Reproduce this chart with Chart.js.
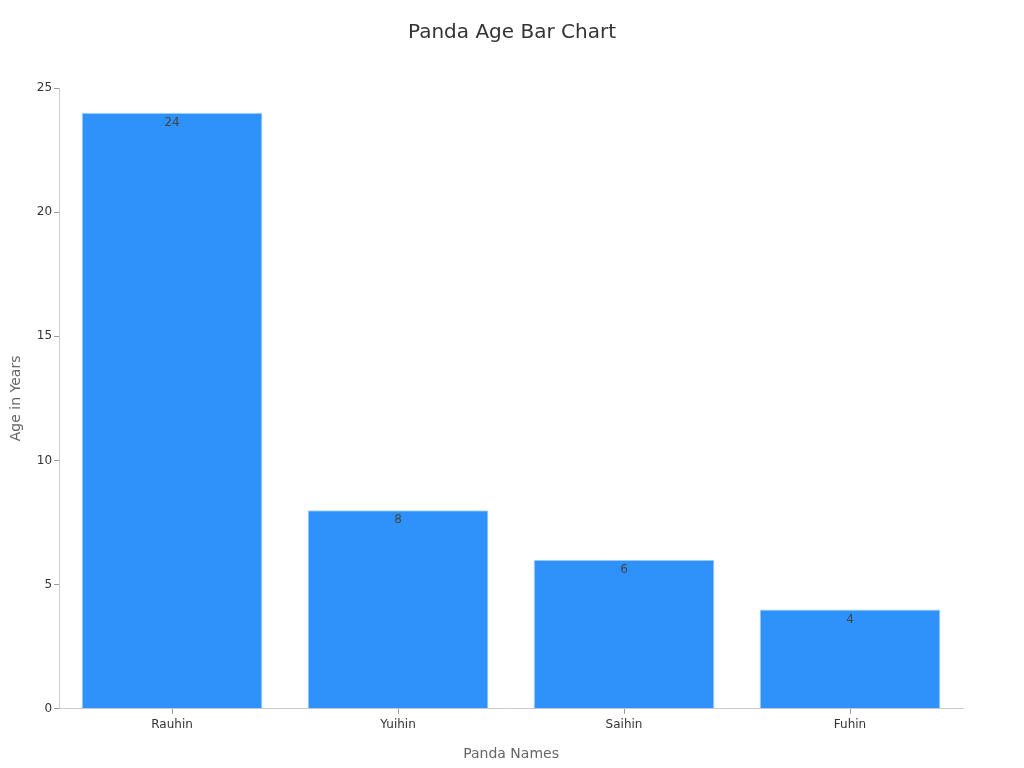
<!DOCTYPE html>
<html lang="en">
<head>
<meta charset="UTF-8">
<title>Panda Age Bar Chart</title>
<script src="https://cdn.jsdelivr.net/npm/chart.js"></script>
<style>
    html, body { margin: 0; padding: 0; background: #fff; }
    #wrap { width: 1024px; height: 768px; }
</style>
</head>
<body>
<div id="wrap"><canvas id="chart" width="1024" height="768"></canvas></div>
<script>
const pandaNames = ["Rauhin", "Yuihin", "Saihin", "Fuhin"];
const pandaAges = [24, 8, 6, 4];
const yTicks = [0, 5, 10, 15, 20, 25];
const chartTitle = 'Panda Age Bar Chart';

// titulo centrado en todo el canvas, no en el area del grafico
const centeredTitle = {
    id: 'centeredTitle',
    afterDraw(chart) {
        const ctx = chart.ctx;
        ctx.save();
        ctx.font = '20px "DejaVu Sans", sans-serif';
        ctx.fillStyle = '#333';
        ctx.textAlign = 'center';
        ctx.textBaseline = 'middle';
        ctx.fillText(chartTitle, chart.width / 2, 33);
        ctx.restore();
    }
};

// etiquetas de valor dentro de cada barra
const valueLabels = {
    id: 'valueLabels',
    afterDatasetsDraw(chart) {
        const ctx = chart.ctx;
        const meta = chart.getDatasetMeta(0);
        ctx.save();
        ctx.font = '12px "DejaVu Sans", sans-serif';
        ctx.fillStyle = '#444';
        ctx.textAlign = 'center';
        ctx.textBaseline = 'middle';
        meta.data.forEach((bar, i) => {
            ctx.fillText(pandaAges[i], bar.x, bar.y + 10);
        });
        ctx.restore();
    }
};

Chart.defaults.font.family = '"DejaVu Sans", sans-serif';

new Chart(document.getElementById('chart'), {
    type: 'bar',
    data: {
        labels: pandaNames,
        datasets: [{
            data: pandaAges,
            backgroundColor: '#2F92FA',
            borderColor: '#A9D4FF',
            borderWidth: 1,
            categoryPercentage: 0.8,
            barPercentage: 1.0
        }]
    },
    options: {
        responsive: false,
        animation: false,
        layout: { padding: { top: 88, right: 61, bottom: 1, left: 4 } },
        plugins: {
            legend: { display: false },
            tooltip: { enabled: false },
            title: { display: false }
        },
        scales: {
            x: {
                grid: { display: true, drawOnChartArea: false, offset: false, tickLength: 5, color: '#999' },
                border: { display: true, color: '#ccc' },
                ticks: { color: '#333', font: { size: 12 }, padding: 4 },
                title: { display: true, text: 'Panda Names', color: '#666', font: { size: 14 }, padding: { top: 10 } }
            },
            y: {
                min: 0,
                max: 25,
                afterBuildTicks: axis => { axis.ticks = yTicks.map(v => ({ value: v })); },
                grid: { display: true, drawOnChartArea: false, tickLength: 5, color: '#999' },
                border: { display: true, color: '#ccc' },
                ticks: { color: '#333', font: { size: 12 }, padding: 2 },
                title: { display: true, text: 'Age in Years', color: '#666', font: { size: 14 }, padding: { bottom: 10 } }
            }
        }
    },
    plugins: [centeredTitle, valueLabels]
});
</script>
</body>
</html>
